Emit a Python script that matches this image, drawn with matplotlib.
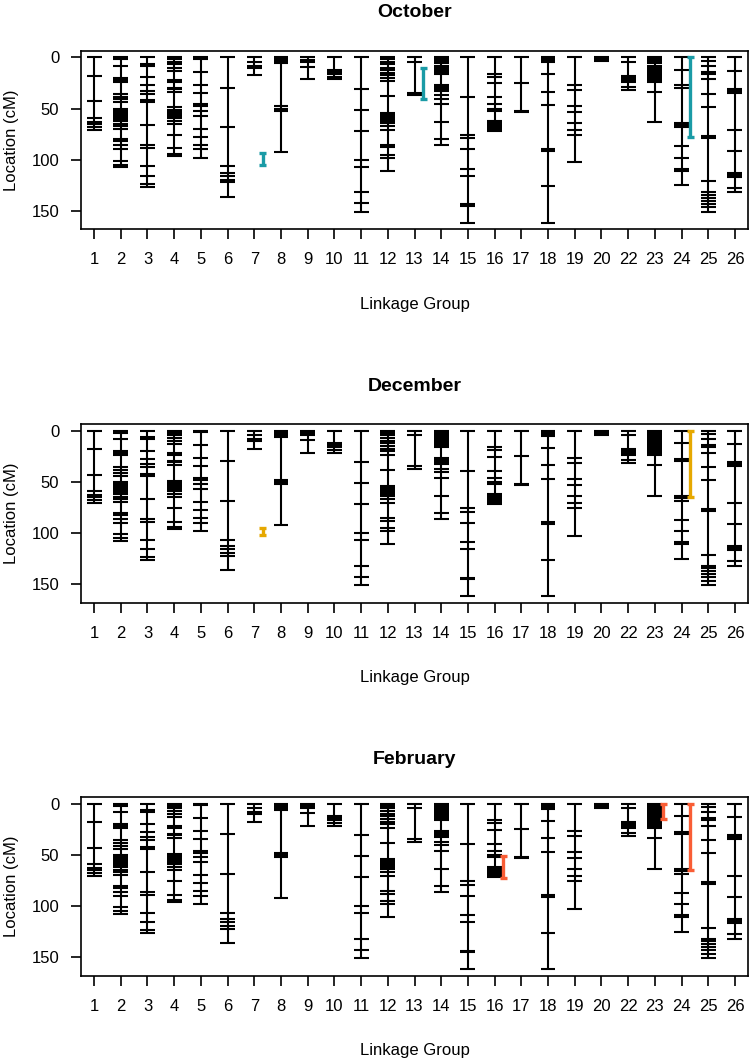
"""Linkage map with QTL intervals for three sampling months (Oct / Dec / Feb)."""
import matplotlib; matplotlib.use("Agg")
import matplotlib.pyplot as plt

plt.rcParams["font.family"] = ["Liberation Sans", "DejaVu Sans"]

# linkage groups (no LG21) and marker positions in cM
lg_labels = ["1","2","3","4","5","6","7","8","9","10","11","12","13","14","15",
             "16","17","18","19","20","22","23","24","25","26"]
lg01 = [0, 18, 43, 59, 63, 65, 68, 71]
lg02 = [0, 2, 8.5, 20, 22, 24, 36, 38.5, 41, 44, 50, 52, 54, 56, 58, 60, 62, 65, 67, 70,
        80, 82, 86, 90, 101, 105, 107.5]
lg03 = [0, 6.5, 8.5, 19.5, 27.5, 33, 36, 42, 44, 66.5, 86, 89, 106.5, 115.5, 123.5, 126.5]
lg04 = [0, 2, 4.5, 7, 10, 13, 22, 24, 29.5, 31, 34, 49, 51, 53, 55, 57, 59, 62, 65, 76, 89, 94, 96]
lg05 = [0, 1.5, 14.5, 27, 35, 46, 48, 52, 57, 70, 78, 85.5, 90, 98]
lg06 = [0, 30, 68.5, 106.5, 113, 116, 119.5, 122, 136.5]
lg07 = [0, 4.5, 8.5, 10.5, 17.5]
lg08 = [0, 1.5, 3, 4.5, 6, 48, 50, 52, 92]
lg09 = [0, 2.5, 4.5, 9, 21.5]
lg10 = [0, 12, 14, 16, 19, 21.5]
lg11 = [0, 30.5, 51.5, 72, 100, 107, 132, 142.5, 151]
lg12 = [0, 2, 4.5, 7, 10, 12.5, 15, 17.5, 20, 23.5, 38, 54, 56, 58, 60, 62, 64, 67, 71,
        85.5, 88, 95, 98, 111]
lg13 = [0, 4.5, 34.5, 37]
lg14 = [0, 2, 4, 6, 8, 10, 12, 14, 16, 27, 29, 31, 33, 37, 40.5, 46, 63.5, 80, 86]
lg15 = [0, 39, 76, 79, 90, 109, 115.5, 143.5, 145, 161.5]
lg16 = [0, 16, 19, 25.5, 39, 46, 50, 52, 62, 64, 66, 68, 70, 72]
lg17 = [0, 25, 52, 53]
lg18 = [0, 2, 4, 5, 16.5, 34, 47, 89.5, 91.5, 126, 161.5]
lg19 = [0, 27, 31.5, 47.5, 53, 64, 71, 76, 102.5]
lg20 = [0, 2, 4]
lg22 = [0, 4.5, 18, 20, 22, 24, 29, 32]
lg23 = [0, 2, 4, 6, 8, 10, 12, 14, 16, 18, 20, 22, 24, 34, 63.5]
lg24 = [0, 12.5, 27.5, 30, 64, 66, 68.5, 87, 98, 109, 111, 125]
lg25 = [0, 3.5, 8.5, 14.5, 16, 21.5, 35.5, 48.5, 76.5, 78.5, 121, 132, 134.5, 137, 140,
        143, 146.5, 151]
lg26 = [0, 13, 31, 33, 35, 71, 91.5, 112.5, 115, 117, 127.5, 132]
markers = [lg01, lg02, lg03, lg04, lg05, lg06, lg07, lg08, lg09, lg10, lg11, lg12, lg13,
           lg14, lg15, lg16, lg17, lg18, lg19, lg20, lg22, lg23, lg24, lg25, lg26]

# QTL intervals per month: group, start, end (cM)
months = ["October", "December", "February"]
qtl_colors = ["#1a9ba6", "#e6a800", "#f95d35"]
oct_qtl_lg = ["7", "13", "24"]; oct_qtl_start = [93, 10.5, 0]; oct_qtl_end = [105, 41, 78]
dec_qtl_lg = ["7", "24"];       dec_qtl_start = [95, 0];       dec_qtl_end = [102, 65]
feb_qtl_lg = ["16", "23", "24"]; feb_qtl_start = [51, 0, 0];   feb_qtl_end = [73, 15, 65]
qtls = [(oct_qtl_lg, oct_qtl_start, oct_qtl_end),
        (dec_qtl_lg, dec_qtl_start, dec_qtl_end),
        (feb_qtl_lg, feb_qtl_start, feb_qtl_end)]

W, H = 750, 1060
fig = plt.figure(figsize=(W/100, H/100), dpi=100)
box_tops = [50.7, 424, 797]   # px from top
box_h = 178.6
left, right = 80.7, 748.3
hw = 0.28      # half width of marker ticks
off = 0.32     # QTL bar offset
ymax = max(max(m) for m in markers)

for k, month in enumerate(months):
    ax = fig.add_axes([left/W, 1-(box_tops[k]+box_h)/H, (right-left)/W, box_h/H])
    for i, pos in enumerate(markers):
        x = i + 1
        ax.vlines(x, 0, max(pos), color="black", lw=1.5)
        ax.hlines(pos, x-hw, x+hw, color="black", lw=1.5)
    g, s, e = qtls[k]
    for lg, a, b in zip(g, s, e):
        x = lg_labels.index(lg) + 1 + off
        ax.vlines(x, a, b, color=qtl_colors[k], lw=2.4)
        ax.hlines([a, b], x-0.13, x+0.13, color=qtl_colors[k], lw=2.4)
    ax.set_xlim(0.5, len(lg_labels)+0.5)
    ax.set_ylim(ymax*1.04, -ymax*0.04)
    ax.set_xticks(range(1, len(lg_labels)+1)); ax.set_xticklabels(lg_labels)
    ax.set_yticks([0, 50, 100, 150])
    ax.tick_params(labelsize=12, length=7.5, width=1.2, pad=9)
    ax.tick_params(axis="y", pad=8)
    for sp in ax.spines.values(): sp.set_linewidth(1.2)
    ax.set_title(month, fontsize=14, fontweight="bold", pad=24)
    ax.text(0.5, -0.42, "Linkage Group", transform=ax.transAxes, ha="center", va="center", fontsize=12)
    ax.text(-0.103, 0.5, "Location (cM)", transform=ax.transAxes, ha="center", va="center",
            rotation=90, fontsize=12)

fig.savefig("out.png", dpi=100)
